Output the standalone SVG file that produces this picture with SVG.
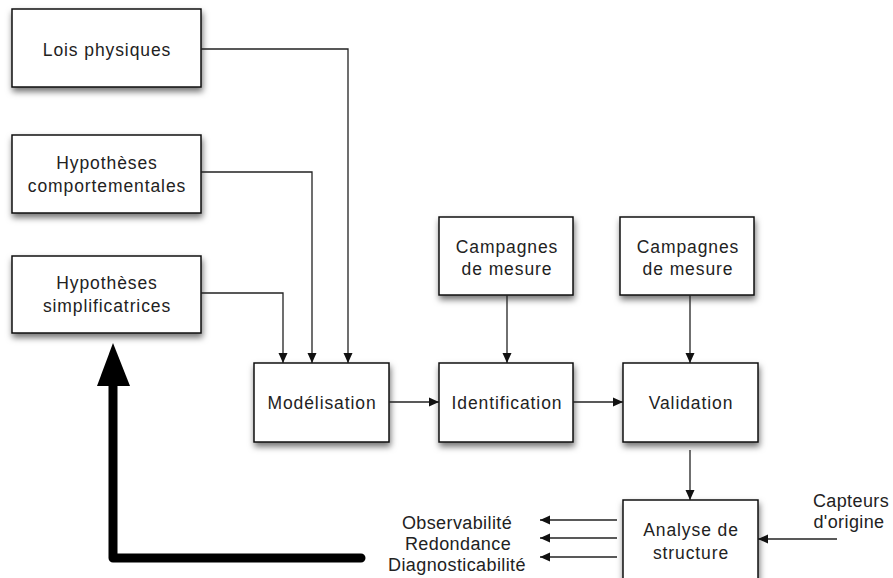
<svg xmlns="http://www.w3.org/2000/svg" width="893" height="578" viewBox="0 0 893 578">
<defs>
<filter id="sh" x="-20%" y="-20%" width="140%" height="150%">
<feDropShadow dx="1" dy="4" stdDeviation="3" flood-color="#000" flood-opacity="0.55"/>
</filter>
<marker id="ah" markerWidth="10" markerHeight="10" refX="10" refY="5" orient="auto" markerUnits="userSpaceOnUse">
<path d="M0,0.5 L10,5 L0,9.5 Z" fill="#111"/>
</marker>
</defs>
<style>
.box{fill:#fff;stroke:#111;stroke-width:1.5;filter:url(#sh)}
text{font-family:"Liberation Sans",Arial,sans-serif;font-size:17.5px;letter-spacing:0.9px;fill:#222;text-anchor:middle}
.lbl{font-size:18px;letter-spacing:0.4px}
.c{fill:none;stroke:#222;stroke-width:1.3;marker-end:url(#ah)}
</style>
<g id="lois"><rect class="box" x="12" y="9" width="189" height="78"/><text x="107" y="56">Lois physiques</text></g>
<g id="hcomp"><rect class="box" x="12" y="135" width="189" height="78"/><text x="107" y="169">Hypothèses</text><text x="107" y="192">comportementales</text></g>
<g id="hsimp"><rect class="box" x="12" y="256" width="189" height="77"/><text x="107" y="289">Hypothèses</text><text x="107" y="312">simplificatrices</text></g>
<g id="model"><rect class="box" x="254" y="363" width="135" height="79"/><text x="322" y="409">Modélisation</text></g>
<g id="ident"><rect class="box" x="439" y="363" width="134" height="79"/><text x="507" y="409">Identification</text></g>
<g id="valid"><rect class="box" x="623" y="363" width="135" height="79"/><text x="691" y="409">Validation</text></g>
<g id="camp1"><rect class="box" x="439" y="217" width="134" height="78"/><text x="507" y="253">Campagnes</text><text x="507" y="275">de mesure</text></g>
<g id="camp2"><rect class="box" x="620" y="217" width="134" height="78"/><text x="688" y="253">Campagnes</text><text x="688" y="275">de mesure</text></g>
<g id="analyse"><rect class="box" x="623" y="500" width="135" height="90"/><text x="691" y="536">Analyse de</text><text x="691" y="559">structure</text></g>
<g id="capteurs"><text class="lbl" x="851" y="507">Capteurs</text><text class="lbl" x="849" y="528">d'origine</text></g>
<g id="outputs"><text class="lbl" x="457" y="529">Observabilité</text><text class="lbl" x="458" y="550">Redondance</text><text class="lbl" x="457" y="571">Diagnosticabilité</text></g>
<g id="connectors">
<path class="c" d="M201,49 H348 V363"/>
<path class="c" d="M201,172 H312 V363"/>
<path class="c" d="M201,293 H283 V363"/>
<path class="c" d="M507,295 V363"/>
<path class="c" d="M690,295 V363"/>
<path class="c" d="M389,402 H439"/>
<path class="c" d="M573,402 H623"/>
<path class="c" d="M690,450 V500"/>
<path class="c" d="M837,539 H758"/>
<path class="c" d="M617,520 H540"/>
<path class="c" d="M617,538 H540"/>
<path class="c" d="M617,557 H540"/>
<path d="M361,558 H113 V386" fill="none" stroke="#000" stroke-width="9" stroke-linejoin="round" stroke-linecap="round"/>
<path d="M97,386 L113,343 L130,386 Z" fill="#000"/>
</g>
</svg>
